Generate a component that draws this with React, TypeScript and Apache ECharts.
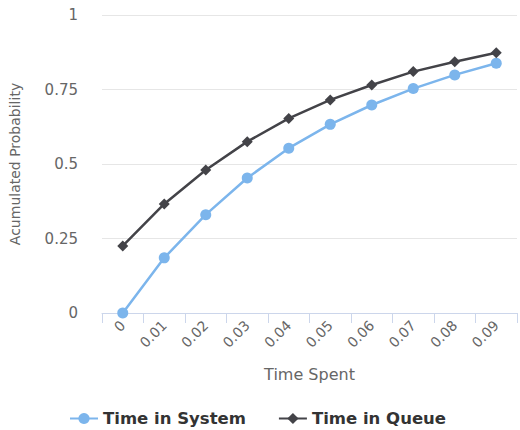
import React, { useEffect, useRef } from "react";
import * as echarts from "echarts";

const categories = ["0", "0.01", "0.02", "0.03", "0.04", "0.05", "0.06", "0.07", "0.08", "0.09"];
const timeInSystem = [0, 0.185, 0.33, 0.453, 0.553, 0.633, 0.698, 0.753, 0.799, 0.838];
const timeInQueue = [0.225, 0.366, 0.48, 0.575, 0.653, 0.715, 0.765, 0.81, 0.843, 0.873];
const yTicks = { min: 0, max: 1, interval: 0.25 };

const FONT = "'DejaVu Sans', Verdana, sans-serif";

export default function App() {
  const ref = useRef<HTMLDivElement>(null);
  useEffect(() => {
    document.body.style.margin = "0";
    const chart = echarts.init(ref.current!, null, { renderer: "svg" });
    chart.setOption({
      animation: false,
      textStyle: { fontFamily: FONT },
      grid: { left: 100, right: 3, top: 15, bottom: 117 },
      legend: {
        top: 405,
        left: 64,
        itemGap: 32,
        itemWidth: 28,
        textStyle: { fontFamily: FONT, fontSize: 16.5, fontWeight: "bold", color: "#333" },
        data: ["Time in System", "Time in Queue"],
      },
      xAxis: {
        type: "category",
        data: categories,
        boundaryGap: true,
        name: "Time Spent",
        nameLocation: "middle",
        nameGap: 53,
        nameTextStyle: { fontFamily: FONT, fontSize: 16, color: "#666" },
        axisLine: { lineStyle: { color: "#ccd6eb" } },
        axisTick: { show: true, length: 10, alignWithLabel: false, lineStyle: { color: "#ccd6eb" } },
        axisLabel: { rotate: 45, fontFamily: FONT, fontSize: 14, color: "#666", margin: 10 },
        splitLine: { show: false },
      },
      yAxis: {
        type: "value",
        min: yTicks.min,
        max: yTicks.max,
        interval: yTicks.interval,
        name: "Acumulated Probability",
        nameLocation: "middle",
        nameGap: 80,
        nameRotate: 90,
        nameTextStyle: { fontFamily: FONT, fontSize: 14, color: "#666" },
        axisLine: { show: false },
        axisTick: { show: false },
        axisLabel: { fontFamily: FONT, fontSize: 15, color: "#666", margin: 24 },
        splitLine: { lineStyle: { color: "#e6e6e6" } },
      },
      series: [
        {
          name: "Time in System",
          type: "line",
          data: timeInSystem,
          symbol: "circle",
          symbolSize: 11,
          itemStyle: { color: "#7cb5ec" },
          lineStyle: { width: 2.5, color: "#7cb5ec" },
        },
        {
          name: "Time in Queue",
          type: "line",
          data: timeInQueue,
          symbol: "diamond",
          symbolSize: 11,
          itemStyle: { color: "#434348" },
          lineStyle: { width: 2.5, color: "#434348" },
        },
      ],
    });
    return () => chart.dispose();
  }, []);
  return <div ref={ref} style={{ width: 520, height: 430 }} />;
}
